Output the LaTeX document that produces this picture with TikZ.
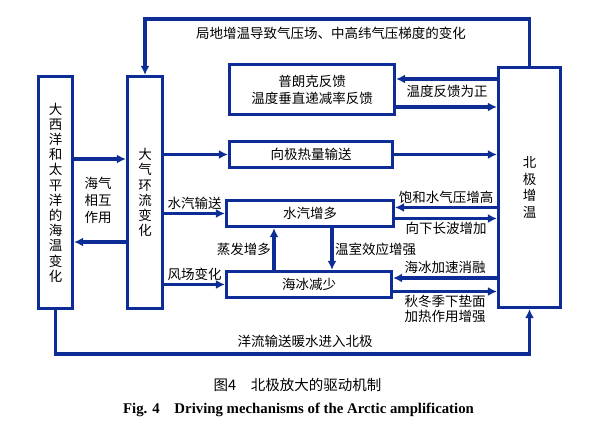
\documentclass[tikz,border=0pt]{standalone}
\usepackage{fontspec}
\setmainfont{Liberation Serif}
\newfontfamily\cjk{Noto Sans CJK SC}
\usetikzlibrary{arrows.meta, positioning}
\definecolor{navy}{RGB}{14,44,150}

\begin{document}
\begin{tikzpicture}[
x=1pt, y=-1pt,
box/.style={rectangle, draw=navy, line width=3.2pt, align=center, inner sep=0pt, font=\cjk\fontsize{13.5}{17}\selectfont},
tall/.style={box, font=\cjk\fontsize{13.5}{15.2}\selectfont},
line/.style={-{Latex[length=9pt, width=9pt]}, draw=navy, line width=3.2pt},
lbl/.style={font=\cjk\fontsize{13.5}{15.5}\selectfont, inner sep=1.5pt, align=center}
]
\useasboundingbox (0,0) rectangle (590,427);

\node[tall, minimum width=34pt, minimum height=232pt] (ocean) at (55.5,192.5) {大\\西\\洋\\和\\太\\平\\洋\\的\\海\\温\\变\\化};
\node[tall, minimum width=35pt, minimum height=232pt] (atm) at (145,192.5) {大\\气\\环\\流\\变\\化};
\node[tall, minimum width=62pt, minimum height=240pt, font=\cjk\fontsize{13.5}{16.7}\selectfont] (arctic) at (529.5,187.5) {北\\极\\增\\温};
\node[box, minimum width=165pt, minimum height=50pt] (planck) at (312,89.5) {普朗克反馈\\温度垂直递减率反馈};
\node[box, minimum width=163pt, minimum height=26pt] (heat) at (311,154.5) {向极热量输送};
\node[box, minimum width=167pt, minimum height=26pt] (vapor) at (310,213.5) {水汽增多};
\node[box, minimum width=165pt, minimum height=26pt] (ice) at (309,284.5) {海冰减少};

\coordinate (top) at (0,19);
\coordinate (bottom) at (0,354);

% feedback loops round the outside
\draw[line] (arctic.north) -- (arctic.north |- top) -| (atm.north);
\node[lbl] (localwarm) at (331,33) {局地增温导致气压场、中高纬气压梯度的变化};
\draw[line] (ocean.south) -- (ocean.south |- bottom) -| (arctic.south);
\node[lbl] (current) at (305,341) {洋流输送暖水进入北极};

% ocean <-> atmosphere
\draw[line] ([yshift=33.5pt]ocean.east) -- ([yshift=33.5pt]ocean.east -| atm.west);
\draw[line] ([yshift=-49.5pt]atm.west) -- ([yshift=-49.5pt]atm.west -| ocean.east);
\node[lbl, font=\cjk\fontsize{13.5}{17}\selectfont] (airsea) at (98,200) {海气\\相互\\作用};

% atmosphere to the middle column
\draw[line] (atm.east |- heat) -- (heat.west);
\draw[line] (atm.east |- vapor) -- node[lbl, above=1pt] (vtrans) {水汽输送} (vapor.west);
\draw[line] (atm.east |- ice) -- node[lbl, above=1pt] (wind) {风场变化} (ice.west);
\draw[line] (heat.east) -- (heat.east -| arctic.west);

% vapor <-> sea ice
\draw[line] ([xshift=-35pt]ice.north) -- ([xshift=-35pt]ice.north |- vapor.south) node[lbl, midway, anchor=east] (evap) {蒸发增多};
\draw[line] ([xshift=22pt]vapor.south) -- ([xshift=22pt]vapor.south |- ice.north) node[lbl, midway, anchor=west] (green) {温室效应增强};

% middle column <-> arctic warming
\draw[line] ([yshift=10.5pt]planck.east -| arctic.west) -- ([yshift=10.5pt]planck.east);
\draw[line] ([yshift=-17.5pt]planck.east) -- ([yshift=-17.5pt]planck.east -| arctic.west);
\node[lbl] (positive) at (447,91) {温度反馈为正};
\draw[line] ([yshift=6pt]vapor.east -| arctic.west) -- node[lbl, above=1pt] (satur) {饱和水气压增高} ([yshift=6pt]vapor.east);
\draw[line] ([yshift=-5pt]vapor.east) -- node[lbl, below=1pt] (longwave) {向下长波增加} ([yshift=-5pt]vapor.east -| arctic.west);
\draw[line] ([yshift=6.5pt]ice.east -| arctic.west) -- node[lbl, above=1pt] (melt) {海冰加速消融} ([yshift=6.5pt]ice.east);
\draw[line] ([yshift=-7pt]ice.east) -- node[lbl, below=1pt, font=\cjk\fontsize{13.5}{15}\selectfont] (autumn) {秋冬季下垫面\\加热作用增强} ([yshift=-7pt]ice.east -| arctic.west);

% captions
\node[font=\cjk\fontsize{14.5}{16}\selectfont] (figcn) at (297.5,385) {图4\quad 北极放大的驱动机制};
\node[font=\bfseries\fontsize{14.8}{16}\selectfont] (figen) at (298.5,410) {Fig. 4\quad Driving mechanisms of the Arctic amplification};
\end{tikzpicture}
\end{document}
